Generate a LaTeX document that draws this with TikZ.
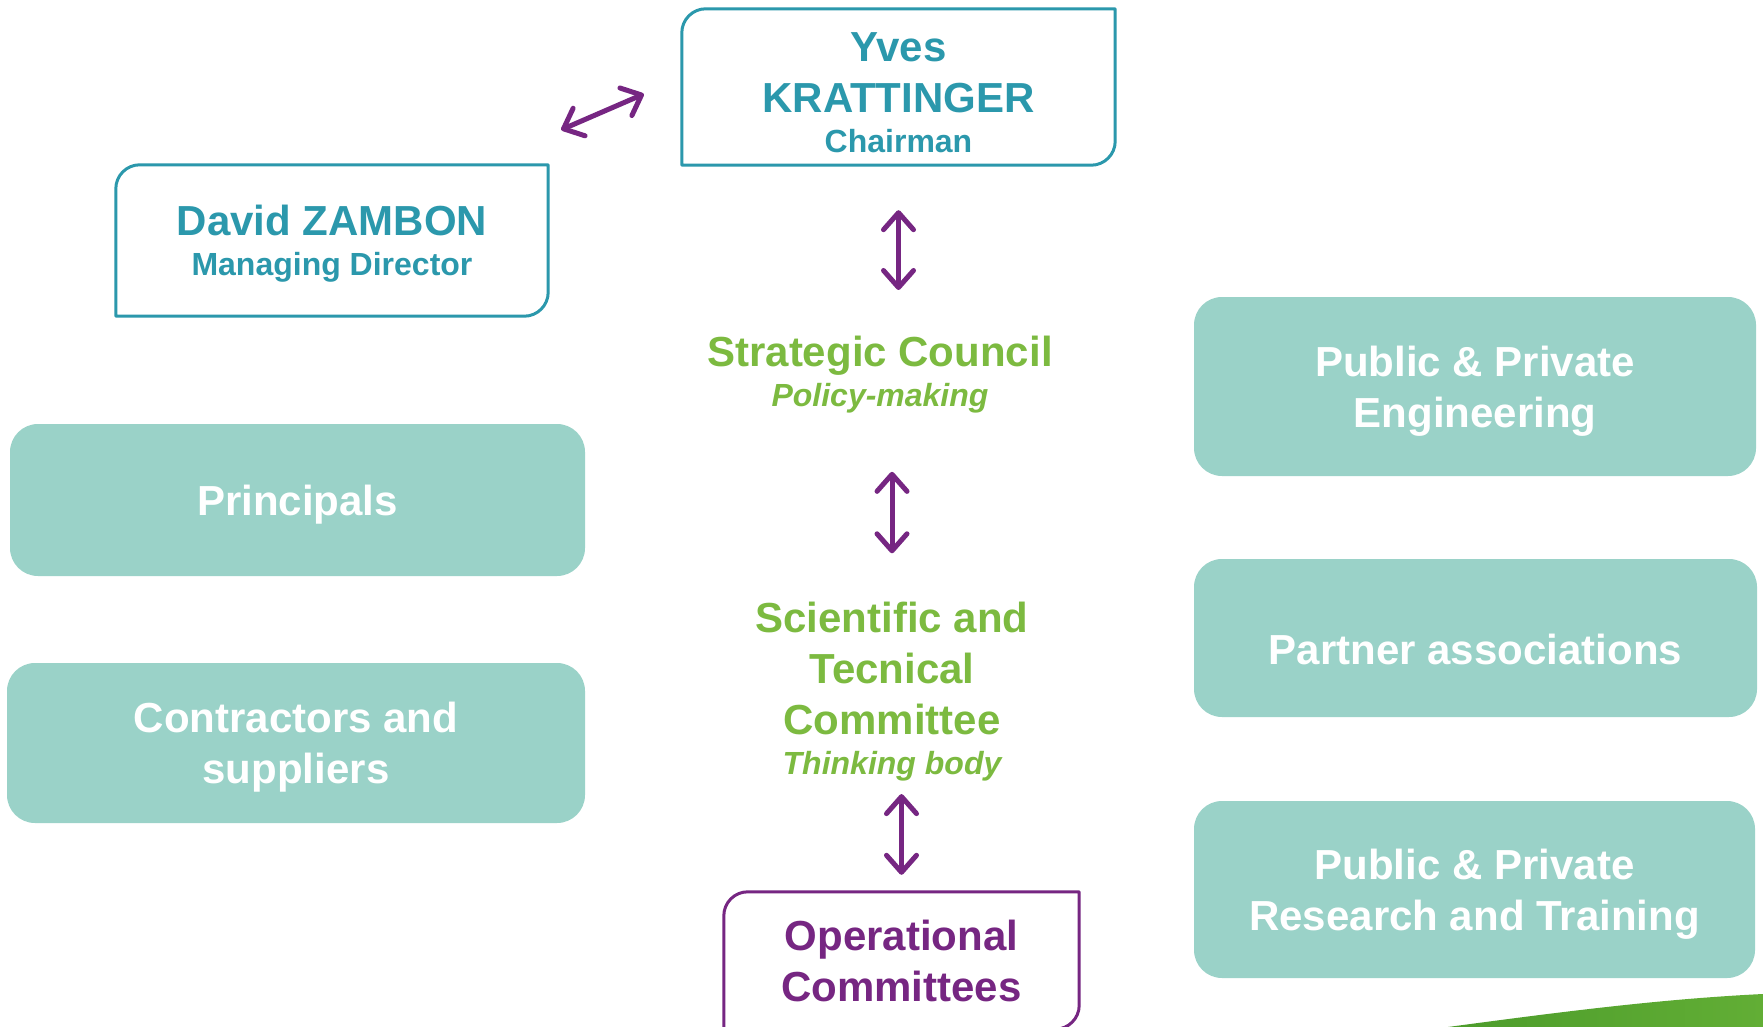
\documentclass[tikz,border=0pt]{standalone}
\usepackage{fontspec}
\setmainfont{Liberation Sans}
\usetikzlibrary{arrows.meta}

\definecolor{boardteal}{HTML}{2B98AC}
\definecolor{boxmint}{HTML}{9AD2C8}
\definecolor{leafgreen}{HTML}{7CBA40}
\definecolor{linkpurple}{HTML}{762682}
\definecolor{swooshdark}{HTML}{4C9C2B}
\definecolor{swooshlight}{HTML}{62AE35}
\newcommand\subsize{\fontsize{32}{38}\selectfont}

\begin{document}
\begin{tikzpicture}[x=1pt,y=-1pt,
    every node/.style={font=\fontsize{42}{51}\selectfont\bfseries, align=center, inner sep=0pt, text depth=0pt},
    frame/.style={line width=3pt, line join=round},
    mintbox/.style={fill=boxmint, rounded corners=28pt, text=white},
    link/.style={draw=linkpurple, line width=5pt, line cap=round,
        arrows={Straight Barb[length=17pt,width=30pt,round]-Straight Barb[length=17pt,width=30pt,round]}}]
    \fill[white] (0,0) rectangle (1763,1027);
    \useasboundingbox (0,0) rectangle (1763,1027);

    % board
    \node[minimum width=433pt, minimum height=156pt, text height=131pt, text=boardteal] (yves) at (898.5,87) {Yves\\KRATTINGER\\[-11pt]{\subsize Chairman}};
    \node[minimum width=432pt, minimum height=151pt, text=boardteal] (david) at (332,240.5) {David ZAMBON\\[-11pt]{\subsize Managing Director}};
    \node[text=leafgreen] (strat) at (880,371.4) {Strategic Council\\[-11pt]{\subsize\itshape Policy-making}};
    \node[text=leafgreen] (sci) at (892,688.7) {Scientific and\\Tecnical\\Committee\\[-11pt]{\subsize\itshape Thinking body}};
    \node[minimum width=355pt, minimum height=137pt, text=linkpurple] (ops) at (901.5,960.5) {Operational\\Committees};

    \foreach \n/\c in {yves/boardteal, david/boardteal, ops/linkpurple}
        \draw[frame, draw=\c] (\n.south west) -- ([yshift=-24pt]\n.north west) arc[start angle=180, end angle=90, radius=24pt]
            -- (\n.north east) -- ([yshift=24pt]\n.south east) arc[start angle=0, end angle=-90, radius=24pt] -- cycle;

    % members
    \node[mintbox, minimum width=575pt, minimum height=152pt] (principals) at (297.5,500) {Principals};
    \node[mintbox, minimum width=578pt, minimum height=160pt] (contractors) at (296,743) {Contractors and\\suppliers};
    \node[mintbox, minimum width=562pt, minimum height=179pt] (engineering) at (1475,386.5) {Public \& Private\\Engineering};
    \node[mintbox, minimum width=563pt, minimum height=158pt, text height=52pt] (partners) at (1475.5,638) {Partner associations};
    \node[mintbox, minimum width=561pt, minimum height=177pt] (research) at (1474.5,889.5) {Public \& Private\\Research and Training};

    % links
    \coordinate (dzTail) at ([shift={(13,-35)}]david.north east);
    \coordinate (ykHead) at ([shift={(-38,7)}]yves.west);
    \draw[link] (dzTail) -- (ykHead);
    \draw[link, shorten <=45pt, shorten >=46pt] (yves.south) -- (yves.south |- strat.north);
    \draw[link, shorten <=65pt, shorten >=49pt] (sci.north |- strat.south) -- (sci.north);
    \draw[link, shorten <=19pt, shorten >=17pt] (ops.north |- sci.south) -- (ops.north);

    \shade[left color=swooshdark, right color=swooshlight] (1448,1027) .. controls (1560,1012) and (1660,999) .. (1763,994) -- (1763,1027) -- cycle;
\end{tikzpicture}
\end{document}
